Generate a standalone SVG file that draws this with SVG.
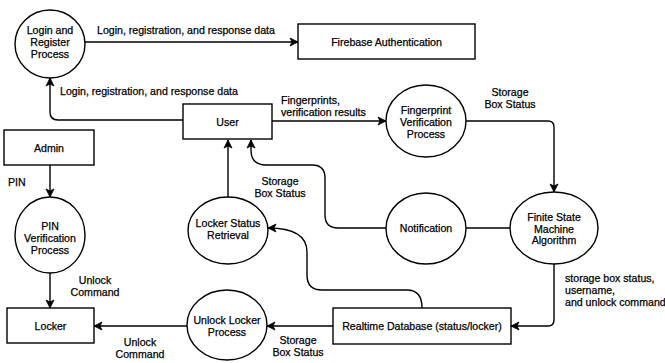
<svg xmlns="http://www.w3.org/2000/svg" width="665" height="363" viewBox="0 0 665 363">
<style>
.n{fill:#fff;stroke:#000;stroke-width:1.4}
.c{fill:none;stroke:#000;stroke-width:1.4}
text{font-family:"Liberation Sans",Arial,sans-serif;font-size:10.6px;fill:#000;stroke:#000;stroke-width:0.25}
.m{text-anchor:middle}
</style>
<defs>
<marker id="a" markerUnits="userSpaceOnUse" markerWidth="10" markerHeight="10" viewBox="0 0 10 10" refX="9" refY="5" orient="auto">
<path d="M1,1 L9,5 L1,9 L3,5 Z" fill="#000" stroke="#000" stroke-width="0.8"/>
</marker>
</defs>
<rect width="665" height="363" fill="#fff" stroke="none"/>
<g id="connectors">
<path class="c" d="M85,42 H298" marker-end="url(#a)"/>
<path class="c" d="M183,120 H58 Q50,120 50,112 V78" marker-end="url(#a)"/>
<path class="c" d="M272,121 H386" marker-end="url(#a)"/>
<path class="c" d="M466,121 H548 Q554,121 554,127 V192" marker-end="url(#a)"/>
<path class="c" d="M466,228 H510"/>
<path class="c" d="M386,228 H338 Q325,228 325,215 V178 Q325,165 312,165 H266 Q251,165 251,150 V140" marker-end="url(#a)"/>
<path class="c" d="M228,197 V140" marker-end="url(#a)"/>
<path class="c" d="M422,308 Q422,290 407,290 H322 Q307,290 307,275 V252 Q307,228 268,228" marker-end="url(#a)"/>
<path class="c" d="M50,165 V197" marker-end="url(#a)"/>
<path class="c" d="M50,273 V308" marker-end="url(#a)"/>
<path class="c" d="M187,326 H94" marker-end="url(#a)"/>
<path class="c" d="M333,326 H267" marker-end="url(#a)"/>
<path class="c" d="M554,264 V320 Q554,326 548,326 H511" marker-end="url(#a)"/>
<text x="97" y="34">Login, registration, and response data</text>
<text x="60" y="95">Login, registration, and response data</text>
<text x="281" y="104">Fingerprints,</text>
<text x="281" y="116">verification results</text>
<text class="m" x="510" y="96">Storage</text>
<text class="m" x="510" y="108">Box Status</text>
<text class="m" x="280" y="185">Storage</text>
<text class="m" x="280" y="197">Box Status</text>
<text x="8" y="186">PIN</text>
<text class="m" x="95" y="284">Unlock</text>
<text class="m" x="95" y="296">Command</text>
<text class="m" x="140" y="346">Unlock</text>
<text class="m" x="140" y="358">Command</text>
<text class="m" x="298" y="344">Storage</text>
<text class="m" x="298" y="356">Box Status</text>
<text x="565" y="282">storage box status,</text>
<text x="565" y="294">username,</text>
<text x="565" y="306">and unlock command</text>
</g>
<g id="login">
<ellipse class="n" cx="50" cy="44" rx="35" ry="34"/>
<text class="m" x="50" y="34">Login and</text>
<text class="m" x="50" y="46">Register</text>
<text class="m" x="50" y="58">Process</text>
</g>
<g id="firebase">
<rect class="n" x="298" y="24" width="177" height="35"/>
<text class="m" x="386.5" y="46">Firebase Authentication</text>
</g>
<g id="user">
<rect class="n" x="183" y="104" width="89" height="35"/>
<text class="m" x="227.5" y="126">User</text>
</g>
<g id="fingerprint">
<ellipse class="n" cx="426" cy="121" rx="40" ry="36"/>
<text class="m" x="426" y="114">Fingerprint</text>
<text class="m" x="426" y="126">Verification</text>
<text class="m" x="426" y="138">Process</text>
</g>
<g id="admin">
<rect class="n" x="4" y="130" width="90" height="35"/>
<text class="m" x="49" y="152">Admin</text>
</g>
<g id="pin">
<ellipse class="n" cx="50" cy="235" rx="35" ry="38"/>
<text class="m" x="50" y="229.5">PIN</text>
<text class="m" x="50" y="241.5">Verification</text>
<text class="m" x="50" y="253.5">Process</text>
</g>
<g id="lockerstatus">
<ellipse class="n" cx="228" cy="230.5" rx="40" ry="33.5"/>
<text class="m" x="228" y="227">Locker Status</text>
<text class="m" x="228" y="239">Retrieval</text>
</g>
<g id="notification">
<ellipse class="n" cx="426" cy="228.5" rx="40" ry="35.5"/>
<text class="m" x="426" y="232">Notification</text>
</g>
<g id="fsm">
<ellipse class="n" cx="554" cy="228" rx="44" ry="36"/>
<text class="m" x="554" y="221">Finite State</text>
<text class="m" x="554" y="232.5">Machine</text>
<text class="m" x="554" y="244">Algorithm</text>
</g>
<g id="locker">
<rect class="n" x="7" y="308" width="87" height="35"/>
<text class="m" x="50.5" y="330">Locker</text>
</g>
<g id="unlock">
<ellipse class="n" cx="227" cy="325" rx="40" ry="35"/>
<text class="m" x="227" y="324">Unlock Locker</text>
<text class="m" x="227" y="336">Process</text>
</g>
<g id="db">
<rect class="n" x="333" y="308" width="178" height="36"/>
<text class="m" x="422" y="330">Realtime Database (status/locker)</text>
</g>
</svg>
